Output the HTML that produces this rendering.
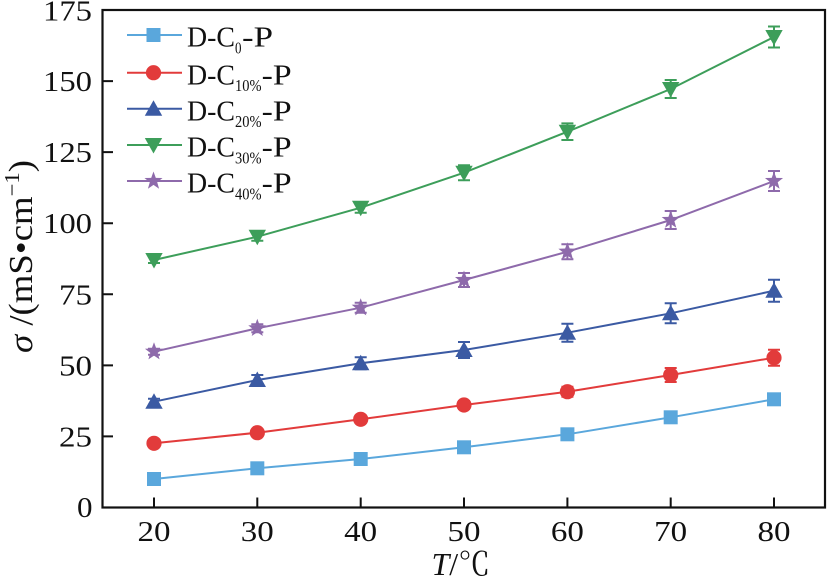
<!DOCTYPE html>
<html>
<head>
<meta charset="utf-8">
<style>
  html, body { margin: 0; padding: 0; background: #ffffff; }
  svg { display: block; }
  text { font-family: "Liberation Serif", "Times New Roman", Times, serif; fill: #111; }
  .cjk { font-family: "Noto Serif CJK SC", "Noto Sans CJK SC", serif; }
</style>
</head>
<body>
<svg width="827" height="577" viewBox="0 0 827 577" xmlns="http://www.w3.org/2000/svg">
  <rect x="0" y="0" width="827" height="577" fill="#ffffff"/>
  <defs>
    <rect id="msq" x="-7" y="-7" width="14" height="14" fill="#5aa7dc"/>
    <circle id="mci" cx="0" cy="0" r="7.6" fill="#e23b3b"/>
    <polygon id="mtu" points="0,-8.5 8.7,7 -8.7,7" fill="#3b5aa3"/>
    <polygon id="mtd" points="0,8.5 8.7,-7 -8.7,-7" fill="#3d9e5a"/>
    <polygon id="mst" points="0,-9.5 2.29,-3.16 9.04,-2.94 3.71,1.21 5.58,7.69 0,3.9 -5.58,7.69 -3.71,1.21 -9.04,-2.94 -2.29,-3.16" fill="#8e6aab"/>
  </defs>

  <!-- axes frame -->
  <rect x="102.5" y="10" width="722.5" height="497.5" fill="none" stroke="#111" stroke-width="2.2"/>

  <!-- y ticks -->
  <path d="M102.5 436.4H113 M102.5 365.4H113 M102.5 294.3H113 M102.5 223.2H113 M102.5 152.1H113 M102.5 81.1H113" stroke="#111" stroke-width="2"/>
  <!-- x ticks -->
  <path d="M154 507.5V497.5 M257.3 507.5V497.5 M360.7 507.5V497.5 M464 507.5V497.5 M567.4 507.5V497.5 M670.7 507.5V497.5 M774 507.5V497.5" stroke="#111" stroke-width="2"/>

  <!-- y tick labels -->
  <g font-size="29">
    <text x="43" y="20.5" textLength="49" lengthAdjust="spacingAndGlyphs">175</text>
    <text x="43" y="91.1" textLength="49" lengthAdjust="spacingAndGlyphs">150</text>
    <text x="43" y="162.1" textLength="49" lengthAdjust="spacingAndGlyphs">125</text>
    <text x="43" y="233.2" textLength="49" lengthAdjust="spacingAndGlyphs">100</text>
    <text x="59" y="304.3" textLength="33" lengthAdjust="spacingAndGlyphs">75</text>
    <text x="59" y="375.4" textLength="33" lengthAdjust="spacingAndGlyphs">50</text>
    <text x="59" y="446.4" textLength="33" lengthAdjust="spacingAndGlyphs">25</text>
    <text x="77" y="517" textLength="15.5" lengthAdjust="spacingAndGlyphs">0</text>
  </g>
  <!-- x tick labels -->
  <g font-size="29">
    <text x="137.5" y="541" textLength="33" lengthAdjust="spacingAndGlyphs">20</text>
    <text x="240.8" y="541" textLength="33" lengthAdjust="spacingAndGlyphs">30</text>
    <text x="344.2" y="541" textLength="33" lengthAdjust="spacingAndGlyphs">40</text>
    <text x="447.5" y="541" textLength="33" lengthAdjust="spacingAndGlyphs">50</text>
    <text x="550.9" y="541" textLength="33" lengthAdjust="spacingAndGlyphs">60</text>
    <text x="654.2" y="541" textLength="33" lengthAdjust="spacingAndGlyphs">70</text>
    <text x="757.5" y="541" textLength="33" lengthAdjust="spacingAndGlyphs">80</text>
  </g>

  <!-- axis labels -->
  <text x="431.5" y="575" font-size="32"><tspan font-style="italic">T</tspan>/<tspan class="cjk">℃</tspan></text>
  <text transform="rotate(-90)" x="-353" y="32" font-size="34" textLength="193" lengthAdjust="spacingAndGlyphs"><tspan font-style="italic">σ</tspan> /(mS•cm<tspan dy="-13" font-size="21">−1</tspan><tspan dy="13">)</tspan></text>

  <!-- Series D-C0-P -->
  <g stroke="#5aa7dc" fill="none" stroke-width="2">
    <polyline points="154,479 257.3,468.3 360.7,459 464,447.3 567.4,434.3 670.7,417.3 774,399.3"/>
    <path d="M154 477V481 M148 477H160 M148 481H160 M257.3 466.3V470.3 M251.3 466.3H263.3 M251.3 470.3H263.3 M360.7 456.5V461.5 M354.7 456.5H366.7 M354.7 461.5H366.7 M464 444.3V450.3 M458 444.3H470 M458 450.3H470 M567.4 431.3V437.3 M561.4 431.3H573.4 M561.4 437.3H573.4 M670.7 413.8V420.8 M664.7 413.8H676.7 M664.7 420.8H676.7 M774 395.3V403.3 M768 395.3H780 M768 403.3H780"/>
  </g>
  <use href="#msq" x="154" y="479"/><use href="#msq" x="257.3" y="468.3"/><use href="#msq" x="360.7" y="459"/><use href="#msq" x="464" y="447.3"/><use href="#msq" x="567.4" y="434.3"/><use href="#msq" x="670.7" y="417.3"/><use href="#msq" x="774" y="399.3"/>

  <!-- Series D-C10%-P -->
  <g stroke="#e23b3b" fill="none" stroke-width="2">
    <polyline points="154,443.3 257.3,432.7 360.7,419.3 464,405 567.4,391.7 670.7,375 774,357.7"/>
    <path d="M154 441.3V445.3 M148 441.3H160 M148 445.3H160 M257.3 429.7V435.7 M251.3 429.7H263.3 M251.3 435.7H263.3 M360.7 415.8V422.8 M354.7 415.8H366.7 M354.7 422.8H366.7 M464 401V409 M458 401H470 M458 409H470 M567.4 386.7V396.7 M561.4 386.7H573.4 M561.4 396.7H573.4 M670.7 368V382 M664.7 368H676.7 M664.7 382H676.7 M774 349.7V365.7 M768 349.7H780 M768 365.7H780"/>
  </g>
  <use href="#mci" x="154" y="443.3"/><use href="#mci" x="257.3" y="432.7"/><use href="#mci" x="360.7" y="419.3"/><use href="#mci" x="464" y="405"/><use href="#mci" x="567.4" y="391.7"/><use href="#mci" x="670.7" y="375"/><use href="#mci" x="774" y="357.7"/>

  <!-- Series D-C20%-P -->
  <g stroke="#3b5aa3" fill="none" stroke-width="2">
    <polyline points="154,401.7 257.3,380 360.7,363.3 464,350 567.4,332.7 670.7,313.3 774,290.7"/>
    <path d="M154 398.7V404.7 M148 398.7H160 M148 404.7H160 M257.3 375V385 M251.3 375H263.3 M251.3 385H263.3 M360.7 357.3V369.3 M354.7 357.3H366.7 M354.7 369.3H366.7 M464 342V358 M458 342H470 M458 358H470 M567.4 323.7V341.7 M561.4 323.7H573.4 M561.4 341.7H573.4 M670.7 303.3V323.3 M664.7 303.3H676.7 M664.7 323.3H676.7 M774 279.7V301.7 M768 279.7H780 M768 301.7H780"/>
  </g>
  <use href="#mtu" x="154" y="401.7"/><use href="#mtu" x="257.3" y="380"/><use href="#mtu" x="360.7" y="363.3"/><use href="#mtu" x="464" y="350"/><use href="#mtu" x="567.4" y="332.7"/><use href="#mtu" x="670.7" y="313.3"/><use href="#mtu" x="774" y="290.7"/>

  <!-- Series D-C30%-P -->
  <g stroke="#3d9e5a" fill="none" stroke-width="2">
    <polyline points="154,260 257.3,236.7 360.7,207.7 464,172.7 567.4,131.7 670.7,89 774,37"/>
    <path d="M154 257V263 M148 257H160 M148 263H160 M257.3 232.7V240.7 M251.3 232.7H263.3 M251.3 240.7H263.3 M360.7 202.7V212.7 M354.7 202.7H366.7 M354.7 212.7H366.7 M464 165.2V180.2 M458 165.2H470 M458 180.2H470 M567.4 123.4V140 M561.4 123.4H573.4 M561.4 140H573.4 M670.7 80V98 M664.7 80H676.7 M664.7 98H676.7 M774 26.5V47.5 M768 26.5H780 M768 47.5H780"/>
  </g>
  <use href="#mtd" x="154" y="260"/><use href="#mtd" x="257.3" y="236.7"/><use href="#mtd" x="360.7" y="207.7"/><use href="#mtd" x="464" y="172.7"/><use href="#mtd" x="567.4" y="131.7"/><use href="#mtd" x="670.7" y="89"/><use href="#mtd" x="774" y="37"/>

  <!-- Series D-C40%-P -->
  <g stroke="#8e6aab" fill="none" stroke-width="2">
    <polyline points="154,351.7 257.3,328.3 360.7,307.7 464,280 567.4,251.7 670.7,220 774,181"/>
    <path d="M154 348.7V354.7 M148 348.7H160 M148 354.7H160 M257.3 324.3V332.3 M251.3 324.3H263.3 M251.3 332.3H263.3 M360.7 302.7V312.7 M354.7 302.7H366.7 M354.7 312.7H366.7 M464 273V287 M458 273H470 M458 287H470 M567.4 244.2V259.2 M561.4 244.2H573.4 M561.4 259.2H573.4 M670.7 211V229 M664.7 211H676.7 M664.7 229H676.7 M774 171V191 M768 171H780 M768 191H780"/>
  </g>
  <use href="#mst" x="154" y="351.7"/><use href="#mst" x="257.3" y="328.3"/><use href="#mst" x="360.7" y="307.7"/><use href="#mst" x="464" y="280"/><use href="#mst" x="567.4" y="251.7"/><use href="#mst" x="670.7" y="220"/><use href="#mst" x="774" y="181"/>

  <!-- Legend -->
  <g stroke-width="2">
    <line x1="127" y1="35" x2="182" y2="35" stroke="#5aa7dc"/>
    <line x1="127" y1="72.7" x2="182" y2="72.7" stroke="#e23b3b"/>
    <line x1="127" y1="108.7" x2="182" y2="108.7" stroke="#3b5aa3"/>
    <line x1="127" y1="145" x2="182" y2="145" stroke="#3d9e5a"/>
    <line x1="127" y1="181" x2="182" y2="181" stroke="#8e6aab"/>
  </g>
  <use href="#msq" x="153.5" y="35"/>
  <use href="#mci" x="153.5" y="72.7"/>
  <use href="#mtu" x="153.5" y="108.7"/>
  <use href="#mtd" x="153.5" y="145"/>
  <use href="#mst" x="153.5" y="181"/>

  <g font-size="28">
    <text x="187" y="46.7" textLength="48" lengthAdjust="spacingAndGlyphs">D-C</text>
    <text x="235" y="53.3" font-size="17" textLength="6.5" lengthAdjust="spacingAndGlyphs">0</text>
    <text x="242" y="46.7" textLength="31" lengthAdjust="spacingAndGlyphs">-P</text>

    <text x="187" y="84.4" textLength="48" lengthAdjust="spacingAndGlyphs">D-C</text>
    <text x="235" y="91" font-size="17" textLength="26.5" lengthAdjust="spacingAndGlyphs">10%</text>
    <text x="261.7" y="84.4" textLength="30" lengthAdjust="spacingAndGlyphs">-P</text>

    <text x="187" y="120.4" textLength="48" lengthAdjust="spacingAndGlyphs">D-C</text>
    <text x="235" y="127" font-size="17" textLength="26.5" lengthAdjust="spacingAndGlyphs">20%</text>
    <text x="261.7" y="120.4" textLength="30" lengthAdjust="spacingAndGlyphs">-P</text>

    <text x="187" y="156.7" textLength="48" lengthAdjust="spacingAndGlyphs">D-C</text>
    <text x="235" y="163.3" font-size="17" textLength="26.5" lengthAdjust="spacingAndGlyphs">30%</text>
    <text x="261.7" y="156.7" textLength="30" lengthAdjust="spacingAndGlyphs">-P</text>

    <text x="187" y="192.7" textLength="48" lengthAdjust="spacingAndGlyphs">D-C</text>
    <text x="235" y="199.3" font-size="17" textLength="26.5" lengthAdjust="spacingAndGlyphs">40%</text>
    <text x="261.7" y="192.7" textLength="30" lengthAdjust="spacingAndGlyphs">-P</text>
  </g>
</svg>
</body>
</html>
